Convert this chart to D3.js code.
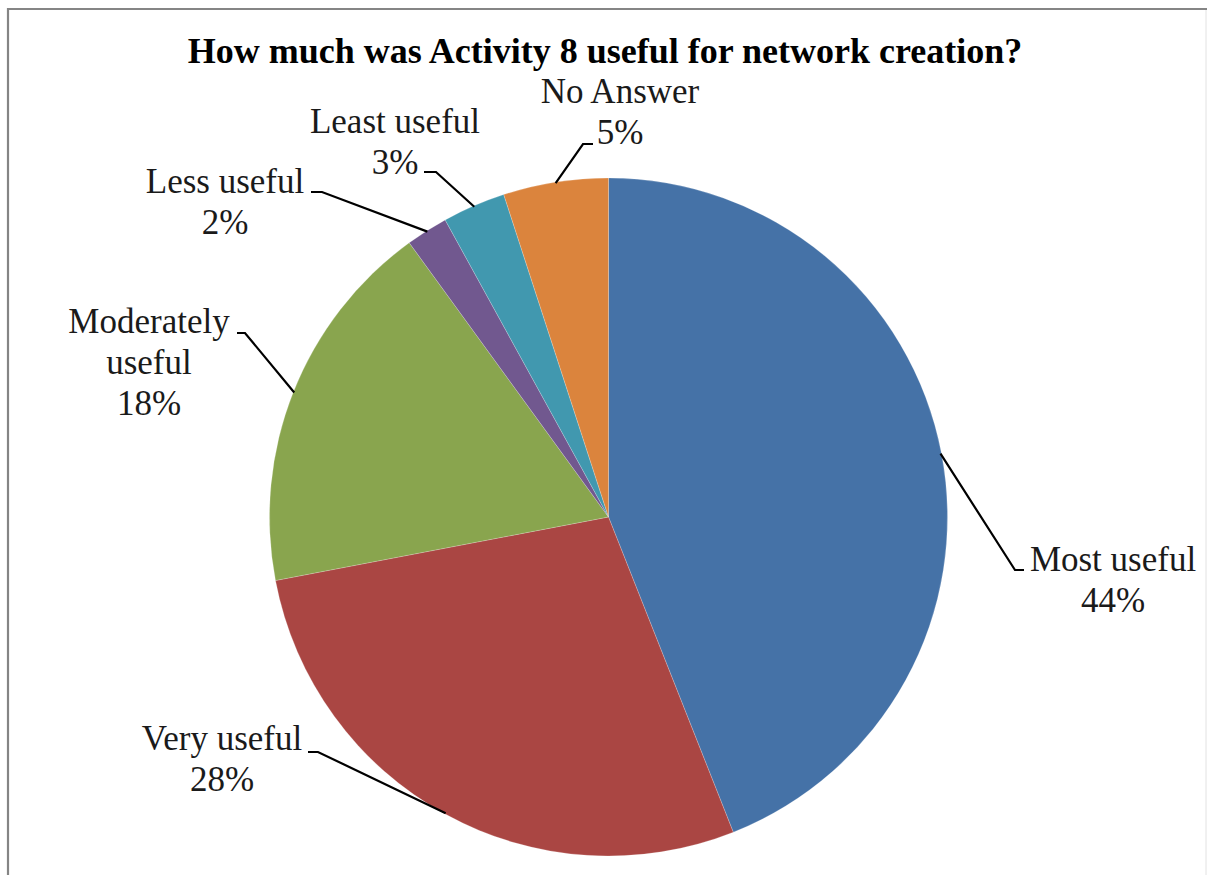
<!DOCTYPE html>
<html>
<head>
<meta charset="utf-8">
<script src="https://cdn.jsdelivr.net/npm/d3@7"></script>
<style>
  html, body { margin: 0; padding: 0; background: #ffffff; }
  svg { display: block; }
</style>
</head>
<body>
<svg id="chart" width="1207" height="875"></svg>
<script>
// Survey responses: usefulness of Activity 8 for network creation
const categories = ["Most useful", "Very useful", "Moderately useful", "Less useful", "Least useful", "No Answer"];
const values = [44, 28, 18, 2, 3, 5];
const colors = ["#4572A7", "#AA4643", "#89A54E", "#71588F", "#4198AF", "#DB843D"];
const title = "How much was Activity 8 useful for network creation?";

const W = 1207, H = 875;
const cx = 608.5, cy = 517, R = 339;

// Callout placement for each slice label: text centre, first baseline,
// leader elbow and leader end (the short horizontal tail next to the text)
const labelLayout = [
  { x: 1113, y: 571, lines: null, elbow: [1015, 570], tail: [1024, 570] },
  { x: 222,  y: 750, lines: null, elbow: [318, 752],  tail: [308, 752] },
  { x: 149,  y: 333, lines: ["Moderately", "useful"], elbow: [245, 333], tail: [237, 333] },
  { x: 225,  y: 193, lines: null, elbow: [322, 192],  tail: [311, 192] },
  { x: 395,  y: 133, lines: null, elbow: [436, 172],  tail: [424, 172] },
  { x: 620,  y: 103, lines: null, elbow: [583, 144],  tail: [593, 144] }
];
const lineHeight = 41;

const svg = d3.select("#chart");

// chart frame
svg.append("rect").attr("x", 0).attr("y", 0).attr("width", W).attr("height", H).attr("fill", "#ffffff");
svg.append("line").attr("x1", 7).attr("y1", 9).attr("x2", W).attr("y2", 9)
  .attr("stroke", "#858585").attr("stroke-width", 2.2);
svg.append("line").attr("x1", 8).attr("y1", 8).attr("x2", 8).attr("y2", H)
  .attr("stroke", "#858585").attr("stroke-width", 2.2);
svg.append("line").attr("x1", 1206).attr("y1", 10).attr("x2", 1206).attr("y2", H)
  .attr("stroke", "#e2e2e2").attr("stroke-width", 1);

// title
svg.append("text")
  .attr("x", 605).attr("y", 63)
  .attr("text-anchor", "middle")
  .attr("font-family", "'Liberation Serif', 'Times New Roman', serif")
  .attr("font-weight", "bold")
  .attr("font-size", 36)
  .attr("fill", "#000")
  .text(title);

const data = categories.map((c, i) => ({ name: c, value: values[i], color: colors[i], layout: labelLayout[i] }));

const pie = d3.pie().value(d => d.value).sort(null);
const arcs = pie(data);
const arc = d3.arc().innerRadius(0).outerRadius(R);

const g = svg.append("g").attr("transform", `translate(${cx},${cy})`);
g.selectAll("path.slice")
  .data(arcs)
  .join("path")
  .attr("class", "slice")
  .attr("d", arc)
  .attr("fill", d => d.data.color)
  .attr("stroke", "#ffffff")
  .attr("stroke-width", 0.4)
  .attr("stroke-opacity", 0.5);

// leader lines: from slice edge at its mid-angle to the elbow, then a short tail
const leaders = svg.append("g");
arcs.forEach(a => {
  const mid = (a.startAngle + a.endAngle) / 2;
  const sx = cx + (R - 1) * Math.sin(mid);
  const sy = cy - (R - 1) * Math.cos(mid);
  const L = a.data.layout;
  leaders.append("path")
    .attr("d", d3.line()([[sx, sy], L.elbow, L.tail]))
    .attr("fill", "none")
    .attr("stroke", "#000")
    .attr("stroke-width", 2.2);
});

// labels: category name(s) followed by the percentage
const labels = svg.append("g")
  .attr("font-family", "'Liberation Serif', 'Times New Roman', serif")
  .attr("font-size", 35)
  .attr("fill", "#1a1a1a")
  .attr("text-anchor", "middle");
arcs.forEach(a => {
  const L = a.data.layout;
  const lines = (L.lines || [a.data.name]).concat([a.data.value + "%"]);
  const t = labels.append("text").attr("x", L.x).attr("y", L.y);
  lines.forEach((s, i) => {
    t.append("tspan").attr("x", L.x).attr("y", L.y + i * lineHeight).text(s);
  });
});
</script>
</body>
</html>
